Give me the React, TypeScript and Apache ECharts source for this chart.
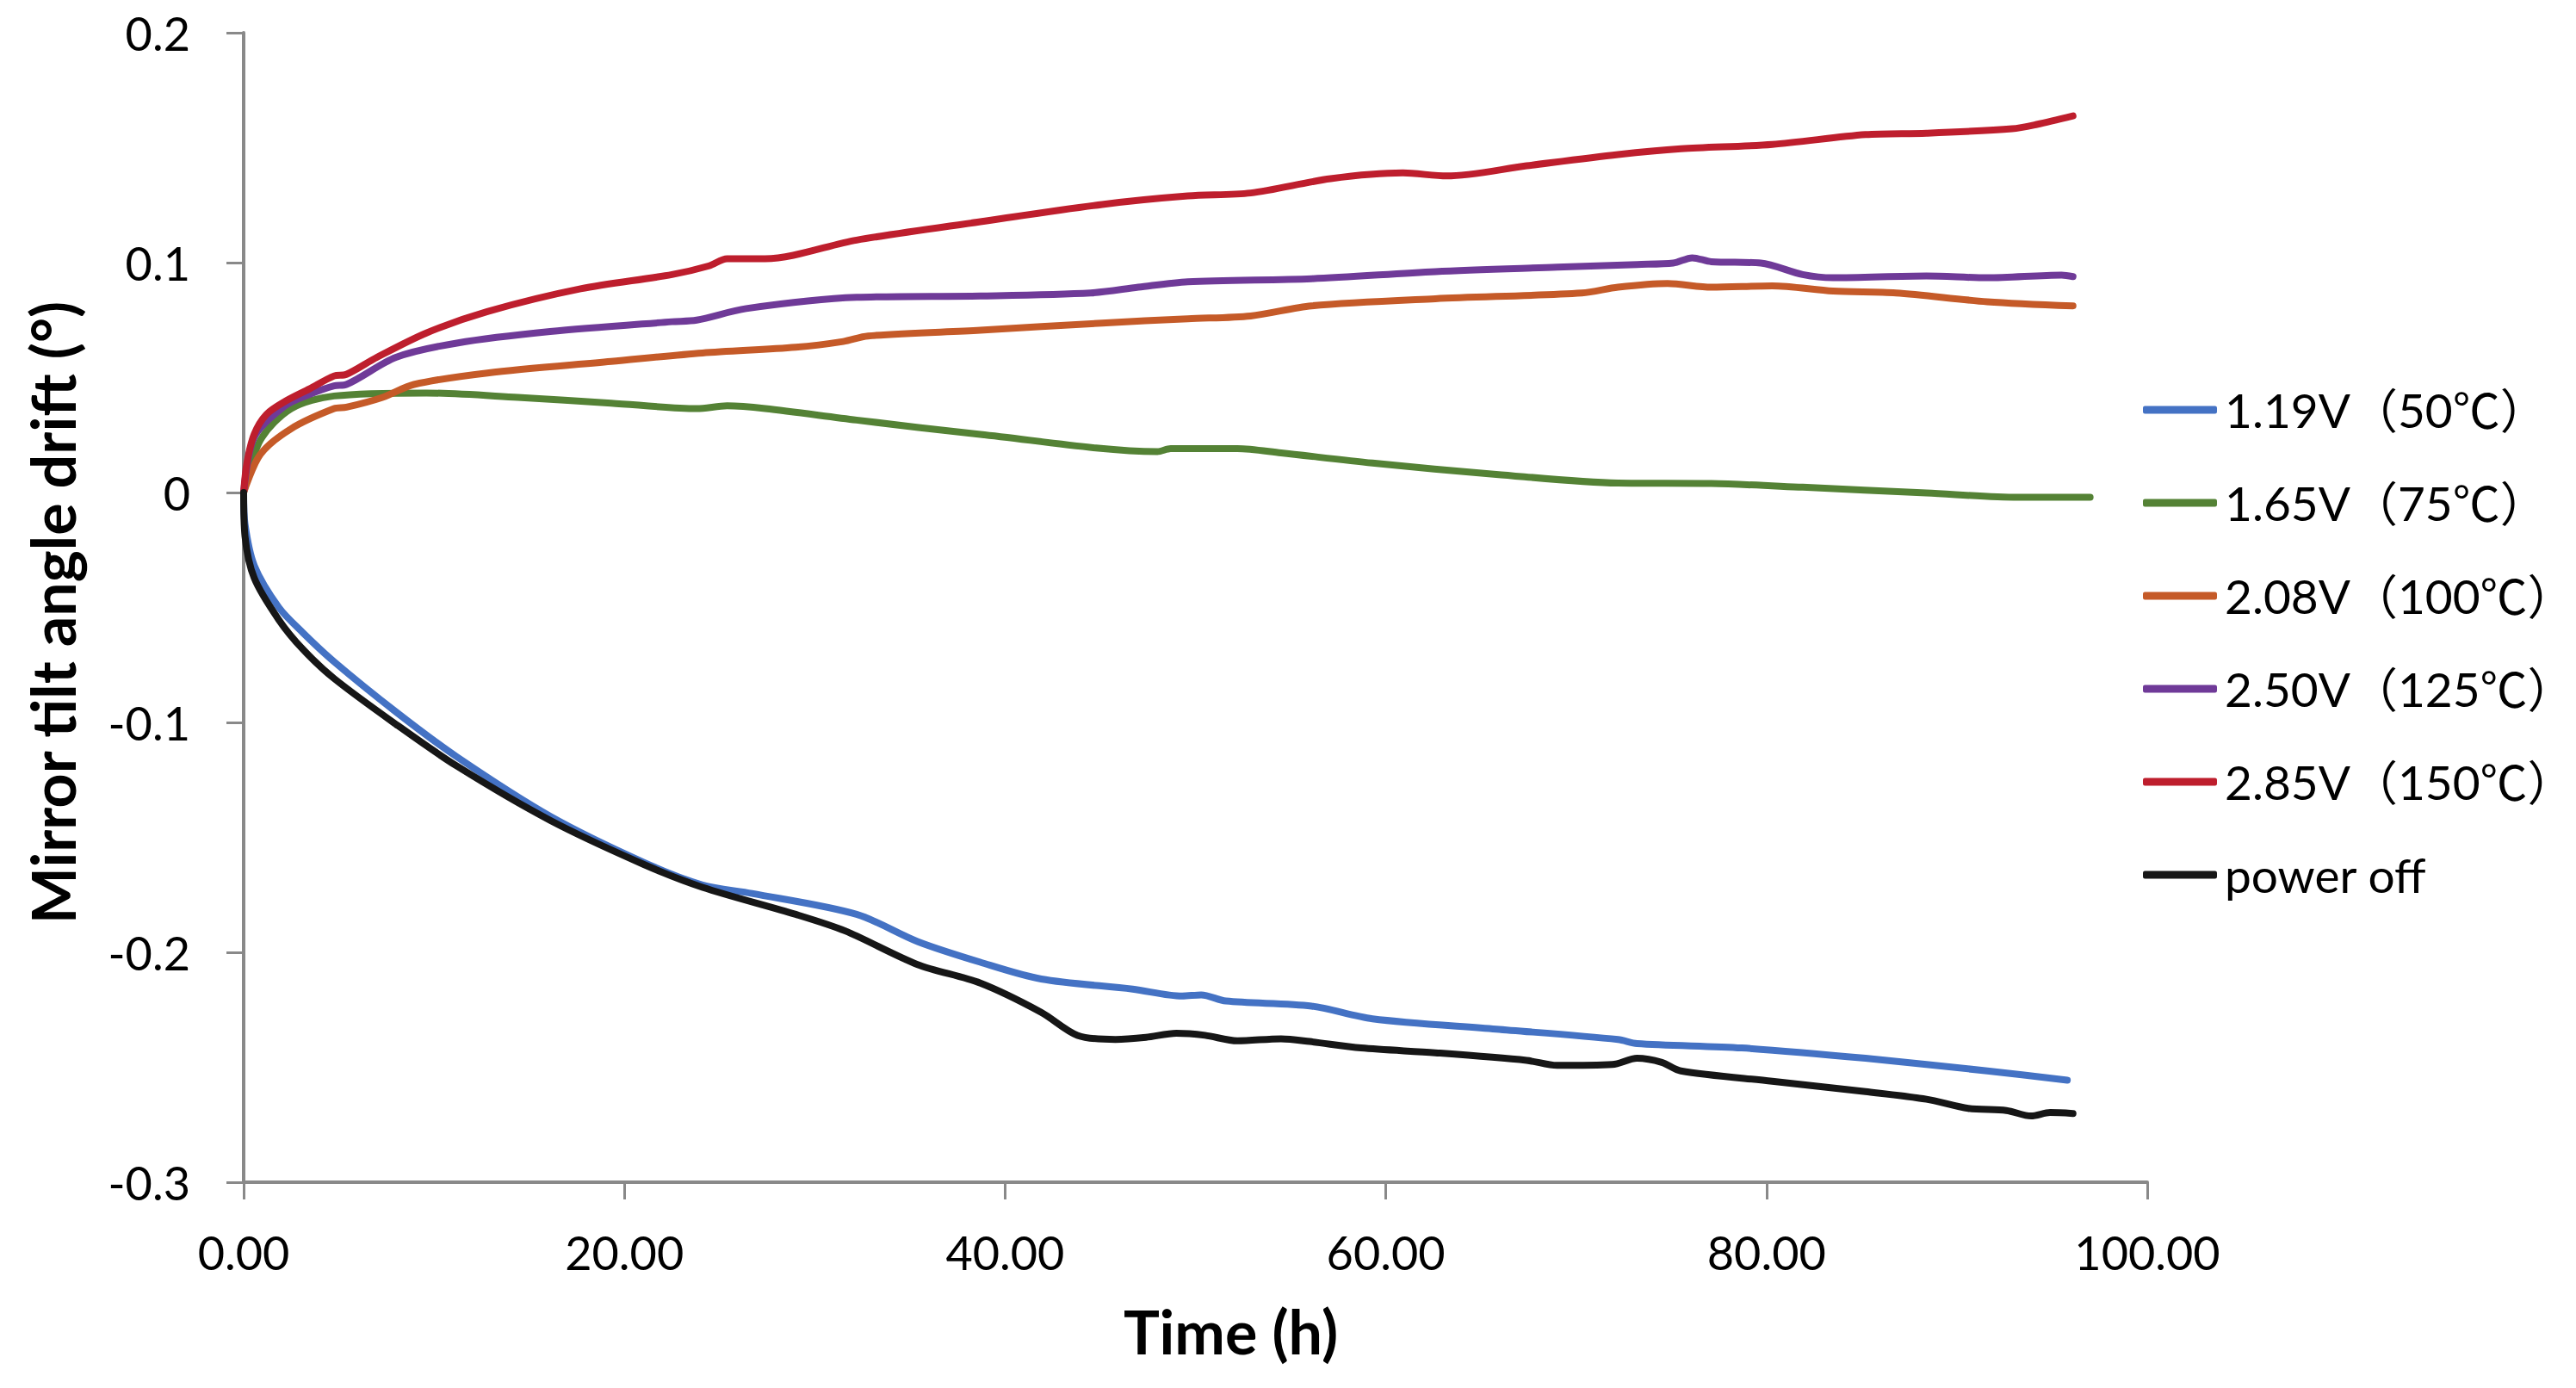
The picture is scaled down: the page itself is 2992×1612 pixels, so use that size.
import React, { useEffect, useRef } from "react";
import * as echarts from "echarts";

// Legend names
const seriesNames = [
  "1.19V（50℃）",
  "1.65V（75℃）",
  "2.08V（100℃）",
  "2.50V（125℃）",
  "2.85V（150℃）",
  "power off",
];
const seriesColors = ["#4472C4", "#548235", "#C55A28", "#6F3A98", "#BE1E2D", "#161616"];

// Axis ticks
const xTicks = [0, 20, 40, 60, 80, 100];
const yTicks = [-0.3, -0.2, -0.1, 0, 0.1, 0.2];

// 1.19V (50℃)
const blueT = [0, 0.07, 0.56, 1.85, 3.1, 4.75, 8, 11.2, 16.1, 21, 24.1, 26.7, 32.2, 35.4, 38.7, 41.9, 46.7, 49.3, 50.3, 51.6, 56.1, 59.3, 65.8, 72.2, 73.2, 78.7, 85.2, 91.6, 95.8];
const blueV = [0, -1.37, -3.18, -5.0, -6.09, -7.36, -9.54, -11.5, -14.08, -16.08, -17.07, -17.44, -18.35, -19.53, -20.43, -21.16, -21.6, -21.9, -21.85, -22.12, -22.34, -22.89, -23.34, -23.79, -23.97, -24.16, -24.61, -25.16, -25.56];

// 1.65V (75℃)
const greenT = [0, 0.88, 2.5, 4.75, 9.6, 14.4, 19.3, 23.8, 25.4, 27.4, 32.2, 38.7, 48, 48.7, 52.2, 54.5, 59.3, 65.8, 72.2, 77.1, 81.9, 88.4, 93.2, 97];
const greenV = [0, 2.28, 3.65, 4.2, 4.33, 4.14, 3.89, 3.65, 3.77, 3.65, 3.15, 2.53, 1.78, 1.91, 1.91, 1.72, 1.28, 0.79, 0.41, 0.39, 0.23, -0.02, -0.21, -0.21];

// 2.08V (100℃)
const orangeT = [0, 0.88, 2.5, 4.75, 5.4, 7.3, 8.95, 12.8, 19.3, 24.1, 29, 31.5, 32.8, 38.7, 45.1, 49.6, 52.9, 56.1, 62.6, 70.3, 72.2, 74.8, 77.1, 80.3, 83.5, 86.8, 91.6, 96.1];
const orangeV = [0, 1.66, 2.78, 3.65, 3.71, 4.14, 4.7, 5.2, 5.7, 6.07, 6.32, 6.57, 6.81, 7.06, 7.37, 7.56, 7.68, 8.12, 8.43, 8.68, 8.93, 9.09, 8.93, 8.99, 8.76, 8.68, 8.3, 8.12];

// 2.50V (125℃)
const purpleT = [0, 0.55, 2.17, 3.46, 4.75, 5.4, 8, 11.2, 16.1, 22.5, 23.8, 26.4, 32.2, 38.7, 44.5, 47, 49.6, 56.1, 62.6, 69, 73.2, 75.1, 76.1, 77.1, 79.7, 81.9, 83.5, 88.4, 91.6, 95.5, 96.1];
const purpleV = [0, 2.4, 3.77, 4.27, 4.64, 4.7, 5.88, 6.5, 7.0, 7.43, 7.5, 8.0, 8.49, 8.55, 8.68, 8.93, 9.17, 9.3, 9.61, 9.8, 9.92, 9.98, 10.21, 10.04, 9.98, 9.48, 9.34, 9.42, 9.34, 9.46, 9.39];

// 2.85V (150℃)
const redT = [0, 0.17, 0.55, 1.2, 2.17, 3.46, 4.75, 5.4, 7.0, 9.6, 12.8, 17.7, 22.5, 24.45, 25.4, 27.4, 32.2, 38.7, 45.1, 49.6, 52.9, 57.1, 60.9, 63.2, 67.4, 72.2, 75.5, 80.3, 85.2, 88.4, 92.9, 94.2, 96.1];
const redV = [0, 1.28, 2.53, 3.4, 3.96, 4.51, 5.07, 5.14, 5.88, 6.94, 7.87, 8.86, 9.48, 9.86, 10.17, 10.17, 10.98, 11.78, 12.53, 12.9, 13.03, 13.65, 13.9, 13.77, 14.21, 14.7, 14.95, 15.14, 15.57, 15.63, 15.82, 16.01, 16.38];

// power off
const blackT = [0, 0.07, 0.56, 1.85, 3.1, 4.75, 8, 11.2, 16.1, 21, 24.1, 29, 31.6, 35.4, 38.7, 41.9, 43.8, 45.8, 47.4, 49, 50.5, 52.2, 54.5, 56, 58.7, 62.6, 67.4, 69, 71.9, 73.2, 74.5, 75.5, 80.3, 85.2, 88.4, 90.6, 92.6, 93.9, 94.9, 96.1];
const blackV = [0, -1.9, -3.73, -5.54, -6.81, -8.09, -10.08, -11.9, -14.26, -16.17, -17.17, -18.35, -19.07, -20.53, -21.34, -22.61, -23.61, -23.79, -23.7, -23.52, -23.61, -23.85, -23.76, -23.88, -24.16, -24.37, -24.7, -24.92, -24.88, -24.61, -24.79, -25.16, -25.61, -26.06, -26.39, -26.79, -26.88, -27.12, -26.97, -27.01];

// values above are in units of 0.01°
const seriesTimes = [blueT, greenT, orangeT, purpleT, redT, blackT];
const seriesVals = [blueV, greenV, orangeV, purpleV, redV, blackV];

const FONT = "Lato, 'Noto Sans CJK JP', sans-serif";

export default function App() {
  const ref = useRef<HTMLDivElement>(null);
  useEffect(() => {
    if (!ref.current) return;
    const chart = echarts.init(ref.current, undefined, { renderer: "svg" });
    const axisColor = "#898989";
    chart.setOption({
      animation: false,
      backgroundColor: "#ffffff",
      grid: { left: 283, right: 498, top: 38, bottom: 239 },
      legend: {
        orient: "vertical",
        left: 2484,
        top: 441,
        itemWidth: 86,
        itemHeight: 9,
        itemGap: 48,
        icon: "roundRect",
        data: seriesNames,
        textStyle: {
          fontFamily: FONT,
          fontSize: 55,
          lineHeight: 60,
          color: "#000",
          padding: [0, 0, 0, 4],
        },
      },
      xAxis: {
        type: "value",
        min: xTicks[0],
        max: xTicks[xTicks.length - 1],
        interval: xTicks[1] - xTicks[0],
        name: "Time (h)",
        nameLocation: "middle",
        nameGap: 138,
        nameTextStyle: {
          fontFamily: FONT,
          fontSize: 70,
          fontWeight: "bold",
          color: "#000",
          padding: [0, 0, 0, 82],
        },
        axisLine: { onZero: false, lineStyle: { color: axisColor, width: 4 } },
        axisTick: { inside: false, length: 20, lineStyle: { color: axisColor, width: 3 } },
        axisLabel: {
          margin: 54,
          fontFamily: FONT,
          fontSize: 54,
          color: "#000",
          formatter: (v: number) => v.toFixed(2),
        },
        splitLine: { show: false },
      },
      yAxis: {
        type: "value",
        min: yTicks[0],
        max: yTicks[yTicks.length - 1],
        interval: 0.1,
        name: "Mirror tilt angle drift (°)",
        nameLocation: "middle",
        nameGap: 187,
        nameTextStyle: {
          fontFamily: FONT,
          fontSize: 70,
          fontWeight: "bold",
          color: "#000",
          padding: [0, 12, 0, 0],
        },
        axisLine: { onZero: false, lineStyle: { color: axisColor, width: 4 } },
        axisTick: { inside: false, length: 20, lineStyle: { color: axisColor, width: 3 } },
        axisLabel: {
          margin: 62,
          fontFamily: FONT,
          fontSize: 54,
          color: "#000",
          formatter: (v: number) => String(Math.round(v * 10) / 10),
        },
        splitLine: { show: false },
      },
      series: seriesNames.map((name, i) => ({
        name,
        type: "line",
        showSymbol: false,
        symbol: "none",
        smooth: 0.3,
        color: seriesColors[i],
        lineStyle: { width: 8, color: seriesColors[i], cap: "round", join: "round" },
        data: seriesTimes[i].map((t, j) => [t, seriesVals[i][j] / 100]),
      })),
    });
    return () => chart.dispose();
  }, []);
  return (
    <div
      ref={ref}
      style={{ position: "fixed", left: 0, top: 0, width: 2992, height: 1612, background: "#fff" }}
    />
  );
}
